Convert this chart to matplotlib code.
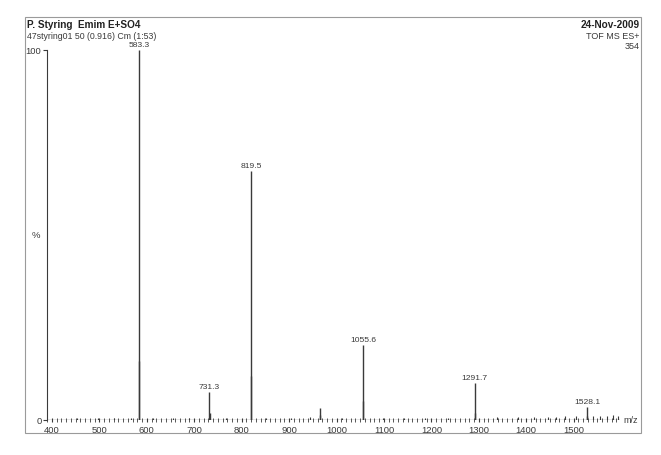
import matplotlib.pyplot as plt
from matplotlib.patches import Rectangle
from matplotlib.ticker import MultipleLocator

plt.rcParams['font.family'] = ['Liberation Sans', 'DejaVu Sans']

# spectrum sticks (m/z, relative intensity %)
peak_mz = [583.3, 584.3, 731.3, 732.3, 819.5, 820.5, 965.0, 966.2,
           1055.6, 1056.6, 1291.7, 1292.7, 1528.1, 1529.1]
peak_int = [100, 16, 7.6, 2.0, 67.3, 12, 3.2, 1.4,
            20.3, 5.0, 10.0, 2.0, 3.5, 1.2]

# small noise sticks along the baseline
noise_mz = [452, 497, 531, 566, 612, 655, 689, 768, 851, 903, 944, 1012,
            1098, 1143, 1187, 1236, 1338, 1382, 1417, 1446, 1463, 1482,
            1505, 1541, 1556, 1571, 1584, 1593]
noise_int = [0.4, 0.5, 0.4, 0.6, 0.4, 0.5, 0.4, 0.5, 0.6, 0.5, 0.7, 0.5,
             0.5, 0.6, 0.5, 0.6, 0.7, 0.8, 0.8, 0.9, 0.8, 1.0,
             1.1, 1.0, 1.2, 1.1, 1.3, 1.2]

label_mz = [583.3, 731.3, 819.5, 1055.6, 1291.7, 1528.1]
label_int = [100, 7.6, 67.3, 20.3, 10.0, 3.5]

xticks = [400, 500, 600, 700, 800, 900, 1000, 1100, 1200, 1300, 1400, 1500]

fig = plt.figure(figsize=(6.61, 4.56), dpi=100)
ax = fig.add_axes([0.0711, 0.0768, 0.867, 0.8114])

ink = '#3a3a3a'
ax.vlines(noise_mz, 0, noise_int, color=ink, lw=0.8)
ax.vlines(peak_mz, 0, peak_int, color=ink, lw=1.0)
ax.axhline(0, color=ink, lw=0.9)

for mz, h in zip(label_mz, label_int):
    ax.text(mz, h + 0.6, f"{mz:.1f}", ha='center', va='bottom',
            fontsize=6.1, color=ink, clip_on=False)

ax.set_xlim(389.5, 1598)
ax.set_ylim(0, 100)
ax.set_xticks(xticks)
ax.xaxis.set_minor_locator(MultipleLocator(10))
ax.set_yticks([0, 100])
ax.tick_params(axis='x', which='major', direction='inout', length=3.5,
               labelsize=6.8, colors=ink, pad=2)
ax.tick_params(axis='x', which='minor', direction='inout', length=2.2,
               colors=ink)
ax.tick_params(axis='y', direction='out', length=3, labelsize=6.8,
               colors=ink, pad=1)
for s in ['top', 'right', 'bottom']:
    ax.spines[s].set_visible(False)
ax.spines['left'].set_color(ink)
ax.spines['left'].set_linewidth(0.8)

ax.text(-0.012, 0.5, '%', transform=ax.transAxes, ha='right', va='center',
        fontsize=6.8, color=ink)
ax.text(1.006, 0.0, 'm/z', transform=ax.transAxes, ha='left', va='center',
        fontsize=6.5, color=ink)

# outer frame and header
fig.add_artist(Rectangle((0.0378, 0.0482), 0.932, 0.912, transform=fig.transFigure,
                         fill=False, edgecolor='#9a9a9a', lw=0.8))
fig.text(0.041, 0.945, 'P. Styring  Emim E+SO4', fontsize=7.2, fontweight='bold',
         color='#222222', va='center')
fig.text(0.041, 0.919, '47styring01 50 (0.916) Cm (1:53)', fontsize=6.3,
         color=ink, va='center')
fig.text(0.967, 0.945, '24-Nov-2009', fontsize=7.2, fontweight='bold',
         color='#222222', va='center', ha='right')
fig.text(0.967, 0.919, 'TOF MS ES+', fontsize=6.5, color=ink, va='center', ha='right')
fig.text(0.967, 0.897, '354', fontsize=6.5, color=ink, va='center', ha='right')

fig.savefig('out.png', dpi=100, facecolor='white')
